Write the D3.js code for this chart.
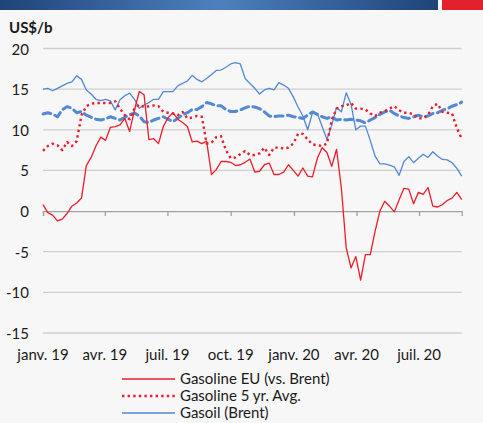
<!DOCTYPE html>
<html>
<head>
<meta charset="utf-8">
<script src="https://cdn.jsdelivr.net/npm/d3@7"></script>
<style>
  html, body { margin: 0; padding: 0; background: #f7f7f7; overflow: hidden; }
  svg { display: block; font-family: Lato, "Open Sans", sans-serif; }
</style>
</head>
<body>
<div id="chart"></div>
<script>
// weekly series, first week = 1 Jan 2019
var startDate = new Date(2019, 0, 1);

var gasolineEU = [
  0.8, -0.2, -0.5, -1.2, -1.0, -0.3, 0.6, 1.0, 1.6, 5.6,
  6.6, 8.0, 9.1, 8.7, 10.3, 10.4, 10.6, 11.4, 9.8, 12.4,
  14.7, 14.3, 8.8, 8.9, 8.3, 10.4, 11.5, 12.1, 11.3, 10.9,
  10.4, 8.5, 8.6, 8.3, 8.6, 4.5, 5.1, 6.1, 6.1, 6.0,
  5.6, 5.7, 6.0, 6.4, 4.8, 4.9, 5.7, 5.9, 4.5, 4.5,
  4.8, 5.7, 5.0, 4.3, 5.3, 4.3, 4.2, 6.5, 7.8, 7.2,
  5.5, 7.6, 2.8, -4.5, -7.0, -5.6, -8.5, -5.35, -5.35, -2.5,
  0.0, 1.2, 0.6, -0.1, 1.4, 2.8, 2.7, 0.9, 2.3, 2.05,
  2.9, 0.6, 0.5, 0.8, 1.3, 1.6, 2.3, 1.4
];

var gasoline5yr = [
  7.4, 8.0, 8.3, 8.1, 7.5, 8.5, 8.0, 8.6, 11.8, 12.9,
  13.2, 13.3, 13.3, 13.3, 13.3, 13.5, 12.6, 11.8, 11.3, 12.6,
  13.1, 12.8, 12.9, 13.0, 12.9, 12.2, 12.1, 12.0, 11.8, 12.2,
  11.4, 11.5, 11.7, 11.6, 8.3, 8.4, 9.1, 9.2, 7.5, 6.5,
  6.6, 7.0, 7.4, 6.9, 6.9, 7.1, 7.8, 6.9, 7.8, 7.8,
  7.7, 7.8, 8.3, 9.5, 9.5, 8.8, 8.2, 8.1, 8.0, 8.3,
  11.2, 12.6, 12.9, 13.0, 13.3, 12.6, 12.6, 12.5, 12.0, 11.7,
  12.1, 12.3, 12.6, 12.9, 12.4, 12.1, 12.1, 11.9, 11.4, 11.4,
  11.8, 12.9, 13.2, 12.2, 12.1, 12.0, 10.2, 8.9
];

var gasoil = [
  15.0, 15.1, 14.8, 15.1, 15.4, 15.7, 15.9, 16.65, 16.2, 14.9,
  14.4, 13.75, 13.6, 13.75, 13.55, 12.45, 13.7, 14.2, 14.5, 13.75,
  12.65, 13.05, 13.35, 13.75, 13.75, 14.7, 14.7, 14.7, 15.4, 15.7,
  16.0, 16.7, 16.2, 15.9, 16.3, 16.8, 17.3, 17.35, 17.7, 18.1,
  18.25, 18.1, 16.3, 15.7, 15.1, 14.4, 14.9, 15.1, 14.9, 15.8,
  15.5, 15.1, 14.05, 12.8, 11.7, 10.0, 12.1, 12.0, 10.4, 8.8,
  10.6, 12.75, 12.2, 14.55, 13.15, 10.0, 10.45, 10.45, 8.7, 6.75,
  5.8, 5.8, 5.65, 5.45, 4.4, 6.1, 6.7, 5.95, 6.5, 7.0,
  6.6, 7.3, 6.75, 6.35, 6.3, 5.95, 5.25, 4.3
];

var gasoil5yr = [
  11.95, 12.1, 11.95, 11.6, 12.45, 12.85, 12.65, 12.1, 12.25, 11.8,
  11.55, 11.3, 11.2, 11.35, 11.6, 11.4, 11.2, 11.55, 11.85, 12.05,
  11.7, 11.0, 10.9, 11.2, 11.4, 11.6, 11.3, 11.0, 11.4, 11.85,
  12.1, 12.5, 12.5, 12.85, 13.35, 13.2, 12.95, 12.95, 12.5, 12.25,
  12.25, 12.45, 12.7, 12.9, 12.8, 12.6, 12.2, 11.7, 11.6, 11.7,
  11.7, 11.8, 11.6, 11.5, 11.4, 11.8, 12.2, 11.9, 11.6, 11.4,
  11.6, 11.2, 11.3, 11.2, 11.3, 11.2, 11.1, 10.85, 11.2, 11.5,
  11.9, 12.2, 12.4, 12.0, 11.7, 11.5, 11.4, 11.6, 11.8, 11.6,
  11.7, 12.0, 12.1, 12.4, 12.6, 12.9, 13.1, 13.4
];

var yTicks = [20, 15, 10, 5, 0, -5, -10, -15];
var xTickDates = [new Date(2019, 0, 1), new Date(2019, 3, 1), new Date(2019, 6, 1), new Date(2019, 9, 1),
                  new Date(2020, 0, 1), new Date(2020, 3, 1), new Date(2020, 6, 1)];
var xTickLabels = ["janv. 19", "avr. 19", "juil. 19", "oct. 19", "janv. 20", "avr. 20", "juil. 20"];

// only the first three legend rows fit in the picture
var seriesNames = ["Gasoline EU (vs. Brent)", "Gasoline 5 yr. Avg.", "Gasoil (Brent)"];

var width = 483, height = 423;

var svg = d3.select("#chart").append("svg")
    .attr("width", width)
    .attr("height", height);

// top banner
var grad = svg.append("defs").append("linearGradient")
    .attr("id", "band")
    .attr("x1", "0%").attr("x2", "100%");
grad.append("stop").attr("offset", "0%").attr("stop-color", "#1f4478");
grad.append("stop").attr("offset", "50%").attr("stop-color", "#4d80bd");
grad.append("stop").attr("offset", "100%").attr("stop-color", "#1f4478");
svg.append("rect").attr("x", 0).attr("y", 0).attr("width", 438).attr("height", 10).attr("fill", "url(#band)");
svg.append("rect").attr("x", 442).attr("y", 0).attr("width", 41).attr("height", 10).attr("fill", "#e5202e");

var x = d3.scaleTime()
    .domain([new Date(2019, 0, 1), new Date(2020, 8, 1)])
    .range([43, 461.7]);

var y = d3.scaleLinear()
    .domain([-15, 20])
    .range([333, 48.5]);

// build rows from the arrays
function toRows(values) {
    return values.map(function(v, i) {
        return {date: d3.timeDay.offset(startDate, 7 * i), value: v};
    });
}

// unit label
svg.append("text")
    .attr("x", 9)
    .attr("y", 33)
    .style("font-size", "15px")
    .style("font-weight", "bold")
    .attr("fill", "#1a1a1a")
    .text("US$/b");

// gridlines
svg.append("g").selectAll("line")
    .data(yTicks.filter(function(d) { return d !== 0; }))
    .enter().append("line")
    .attr("x1", x.range()[0]).attr("x2", x.range()[1])
    .attr("y1", function(d) { return y(d); })
    .attr("y2", function(d) { return y(d); })
    .attr("stroke", "#cfcfcf")
    .attr("stroke-width", 1.3);

// y labels
svg.append("g").selectAll("text")
    .data(yTicks)
    .enter().append("text")
    .attr("x", 29)
    .attr("y", function(d) { return y(d) + 6; })
    .attr("text-anchor", "end")
    .style("font-size", "15px")
    .attr("fill", "#1a1a1a")
    .text(function(d) { return d; });

// zero axis with ticks
var xAxis = d3.axisBottom(x)
    .tickValues(xTickDates)
    .tickSize(5)
    .tickFormat("");
var axisG = svg.append("g")
    .attr("transform", "translate(0," + y(0) + ")")
    .call(xAxis);
axisG.select(".domain").attr("stroke", "#a0a0a0").attr("stroke-width", 1.3);
axisG.selectAll(".tick line").attr("stroke", "#a0a0a0").attr("stroke-width", 1.3);

// x labels at the bottom
svg.append("g").selectAll("text")
    .data(xTickDates)
    .enter().append("text")
    .attr("x", function(d) { return x(d); })
    .attr("y", 360)
    .attr("text-anchor", "middle")
    .style("font-size", "15px")
    .attr("fill", "#1a1a1a")
    .text(function(d, i) { return xTickLabels[i]; });

var line = d3.line()
    .x(function(d) { return x(d.date); })
    .y(function(d) { return y(d.value); });

var styles = [
    {stroke: "#ec1c2c", width: 1.3, dash: null, cap: "butt"},
    {stroke: "#ec1c2c", width: 2.4, dash: "2.4,3.2", cap: "butt"},
    {stroke: "#5289d6", width: 1.3, dash: null, cap: "butt"},
    {stroke: "#5289d6", width: 3, dash: "8,4.5", cap: "round"}
];

var allSeries = [gasolineEU, gasoline5yr, gasoil, gasoil5yr];
var drawOrder = [3, 2, 1, 0];

drawOrder.forEach(function(k) {
    svg.append("path")
        .datum(toRows(allSeries[k]))
        .attr("d", line)
        .attr("fill", "none")
        .attr("stroke", styles[k].stroke)
        .attr("stroke-width", styles[k].width)
        .attr("stroke-dasharray", styles[k].dash)
        .attr("stroke-linecap", styles[k].cap)
        .attr("stroke-linejoin", "round");
});

// legend (rows squeezed a little so the last one stays inside the window)
var legend = svg.append("g").selectAll("g")
    .data(seriesNames)
    .enter().append("g")
    .attr("transform", function(d, i) { return "translate(122," + (379 + i * 17) + ")"; });

legend.append("line")
    .attr("x1", 0).attr("x2", 53)
    .attr("stroke", function(d, i) { return styles[i].stroke; })
    .attr("stroke-width", function(d, i) { return styles[i].width; })
    .attr("stroke-dasharray", function(d, i) { return styles[i].dash; })
    .attr("stroke-linecap", function(d, i) { return styles[i].cap; });

legend.append("text")
    .attr("x", 58)
    .attr("y", 5)
    .style("font-size", "15px")
    .attr("fill", "#1a1a1a")
    .text(function(d) { return d; });
</script>
</body>
</html>
